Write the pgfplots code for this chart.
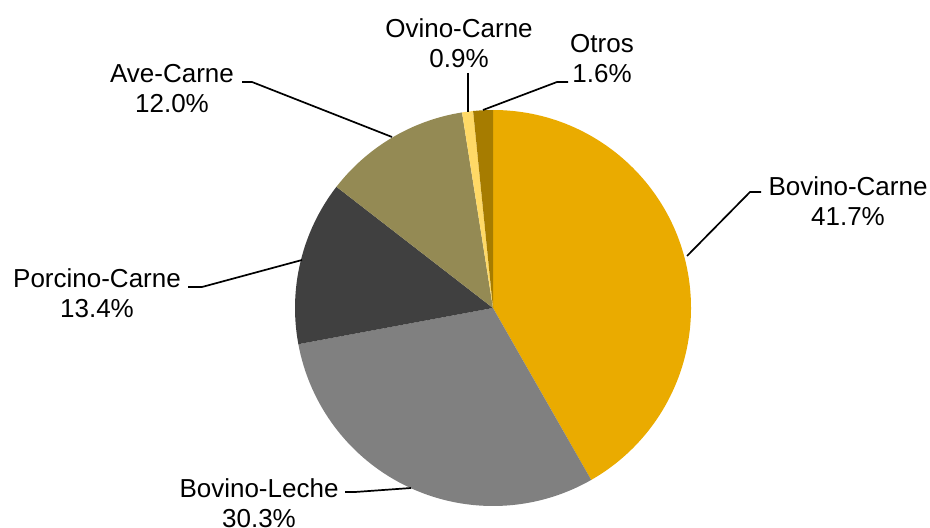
\documentclass[border=0pt]{standalone}
\usepackage{pgfplots}
\pgfplotsset{compat=1.18}
\usepackage{pgfplotstable}
\usepackage{fontspec}
\setmainfont{Liberation Sans}

\definecolor{cBC}{HTML}{EAAB00}
\definecolor{cBL}{HTML}{808080}
\definecolor{cPC}{HTML}{404040}
\definecolor{cAC}{HTML}{948A54}
\definecolor{cOC}{HTML}{FFD966}
\definecolor{cOt}{HTML}{A67C00}

% shares in percent, clockwise from 12 o'clock
\pgfplotstableread[col sep=comma]{
name,value,color
Bovino-Carne,41.7,cBC
Bovino-Leche,30.3,cBL
Porcino-Carne,13.4,cPC
Ave-Carne,12.0,cAC
Ovino-Carne,0.9,cOC
Otros,1.6,cOt
}\piedata

\begin{document}
\begin{tikzpicture}
\begin{axis}[
    name=ax,
    hide axis,
    scale only axis,
    width=465pt, height=263.5pt,
    xmin=0, xmax=930,
    ymin=0, ymax=527,
    clip=false,
]
\pgfmathsetmacro\total{99.9}
\xdef\curang{90}
\pgfplotsinvokeforeach{0,...,5}{
    \pgfplotstablegetelem{#1}{value}\of\piedata \let\val\pgfplotsretval
    \pgfplotstablegetelem{#1}{color}\of\piedata \let\col\pgfplotsretval
    \pgfmathsetmacro\endang{\curang - 360*\val/\total}
    \edef\temp{\noexpand\fill[\col] (axis cs:493,219) -- ++(\curang:99pt)
        arc[start angle=\curang, end angle=\endang, radius=99pt] -- cycle;}
    \temp
    \xdef\curang{\endang}
}

% leader lines
\tikzset{ldr/.style={line width=0.85pt}}
\draw[ldr] (axis cs:687,271) -- (axis cs:750,335) -- (axis cs:761,335);
\draw[ldr] (axis cs:345,35) -- (axis cs:355,35) -- (axis cs:411,39);
\draw[ldr] (axis cs:188,240) -- (axis cs:202,240) -- (axis cs:302,267);
\draw[ldr] (axis cs:242,445) -- (axis cs:252,445) -- (axis cs:392,390);
\draw[ldr] (axis cs:468,454) -- (axis cs:468,415);
\draw[ldr] (axis cs:568,445) -- (axis cs:557,445) -- (axis cs:483,417);

% data labels
\tikzset{lbl/.style={align=center, inner sep=0pt, font=\fontsize{13}{15}\selectfont}}
\node[lbl] at (axis cs:848,326) {Bovino-Carne\\41.7\%};
\node[lbl] at (axis cs:259,24) {Bovino-Leche\\30.3\%};
\node[lbl] at (axis cs:97,233.5) {Porcino-Carne\\13.4\%};
\node[lbl] at (axis cs:172,438) {Ave-Carne\\12.0\%};
\node[lbl] at (axis cs:459,484) {Ovino-Carne\\0.9\%};
\node[lbl] at (axis cs:602,468) {Otros\\1.6\%};
\end{axis}
\pgfresetboundingbox
\useasboundingbox (ax.south west) rectangle (ax.north east);
\end{tikzpicture}
\end{document}
